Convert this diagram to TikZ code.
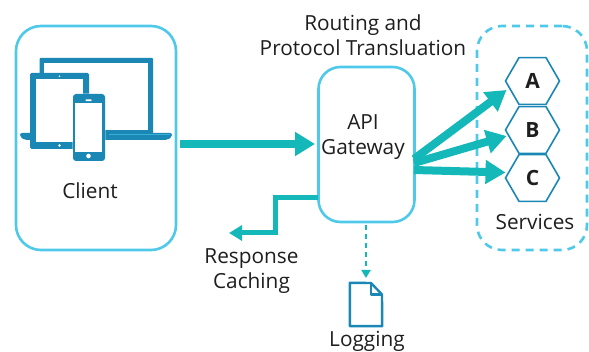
\documentclass[tikz,border=0pt]{standalone}
\usepackage{fontspec}
\setmainfont{Open Sans}
\usetikzlibrary{arrows.meta,shapes.geometric}
\definecolor{boxblue}{HTML}{4FC9EA}
\definecolor{devblue}{HTML}{1A87B5}
\definecolor{flowteal}{HTML}{14B8B8}
\definecolor{inktext}{HTML}{1E1E1E}
\tikzset{
  x=1pt,y=-1pt,
  lbl/.style={font=\fontsize{20.8}{25.5}\selectfont,text=inktext,align=center,inner sep=0pt},
  panel/.style={draw=boxblue,line width=2.6pt,rounded corners=25pt,minimum width=#1,inner sep=0pt},
  hexa/.style={regular polygon,regular polygon sides=6,draw=devblue,line width=1.6pt,minimum size=54pt,inner sep=0pt,
     font=\fontsize{21}{22}\selectfont\bfseries,text=inktext},
  bigflow/.style={draw=flowteal,line width=8pt,-{Triangle[length=20pt,width=23pt]}},
  midflow/.style={draw=flowteal,line width=5pt,-{Triangle[length=13pt,width=15pt]}},
  dashflow/.style={draw=flowteal,line width=2pt,dash pattern=on 5pt off 4pt,-{Triangle[length=8pt,width=9pt]}},
}
\begin{document}
\begin{tikzpicture}
\useasboundingbox (0,0) rectangle (589,352);
% panels
\node[panel=160pt,minimum height=224pt] (client) at (96,138) {};
\node[panel=96pt,minimum height=155pt,rounded corners=22pt] (gw) at (366.5,144.5) {};
\node[panel=110pt,minimum height=224pt,dash pattern=on 8pt off 6pt] (svc) at (532,138) {};
% devices
\fill[devblue,rounded corners=1pt] (39.5,58) rectangle (153,134);
\fill[white] (44,63) rectangle (148,130);
\fill[devblue,rounded corners=2pt] (20,133) -- (172,133) -- (172,137) -- (167,140) -- (25,140) -- (20,137) -- cycle;
\draw[boxblue!60!devblue,line width=.6pt] (109,134) -- (170,134);
\fill[devblue,rounded corners=1.5pt] (30,73) rectangle (89,149);
\fill[white] (36,79) rectangle (83,142);
\fill[white] (59.5,76.3) circle (.9);
\fill[white] (59.5,145.5) circle (1.3);
\draw[white,line width=.7pt,rounded corners=3pt] (73,94) rectangle (105,161);
\fill[devblue,rounded corners=3pt] (73,94) rectangle (105,161);
\fill[white] (75,103) rectangle (102,152);
\fill[white] (88.5,156) circle (2.3);
\fill[white,rounded corners=.5pt] (85.5,99.5) rectangle (91.5,101.2);
% hexagons
\node[hexa] (A) at (532.5,81) {A};
\node[hexa] (B) at (532.5,130) {B};
\node[hexa] (C) at (532.5,178) {C};
% document
\node[inner sep=0pt,minimum width=32pt,minimum height=43pt] (doc) at (366,304.5) {};
\draw[devblue,line width=2.4pt,line join=round] (doc.north west) -- (371,283) -- (382,294.5) -- (doc.south east) -- (doc.south west) -- cycle;
\draw[devblue,line width=2.4pt,line join=round] (371,283) -- (371,294.5) -- (382,294.5);
% labels
\node[lbl] (routing) at (363,35) {Routing and\\Protocol Transluation};
\node[lbl] (gwtext) at (363,137) {API\\Gateway};
\node[lbl] (clienttext) at (90,190.5) {Client};
\node[lbl] (svctext) at (535,221.5) {Services};
\node[lbl] (resp) at (251.5,271) {Response\\Caching\hspace{8pt}};
\node[lbl] (logtext) at (367,341) {Logging};
% connectors
\coordinate (mainS) at (180,144);
\coordinate (mainE) at (315,144);
\coordinate (fanA) at (414,159);
\coordinate (fanB) at (414,163);
\coordinate (fanC) at (414,170);
\coordinate (endA) at (506.5,90);
\coordinate (endB) at (506.5,136);
\coordinate (endC) at (505.5,172.5);
\coordinate (cacheS) at (318,198);
\coordinate (cacheE) at (229,233);
\coordinate (logS) at (366,225);
\coordinate (logE) at (366,278);
\draw[bigflow] (mainS) -- (mainE);
\draw[bigflow] (fanA) -- (endA);
\draw[bigflow] (fanB) -- (endB);
\draw[bigflow] (fanC) -- (endC);
\draw[midflow] (cacheS) -- (275.5,198) -- (275.5,233) -- (cacheE);
\draw[dashflow] (logS) -- (logE);
\end{tikzpicture}
\end{document}
